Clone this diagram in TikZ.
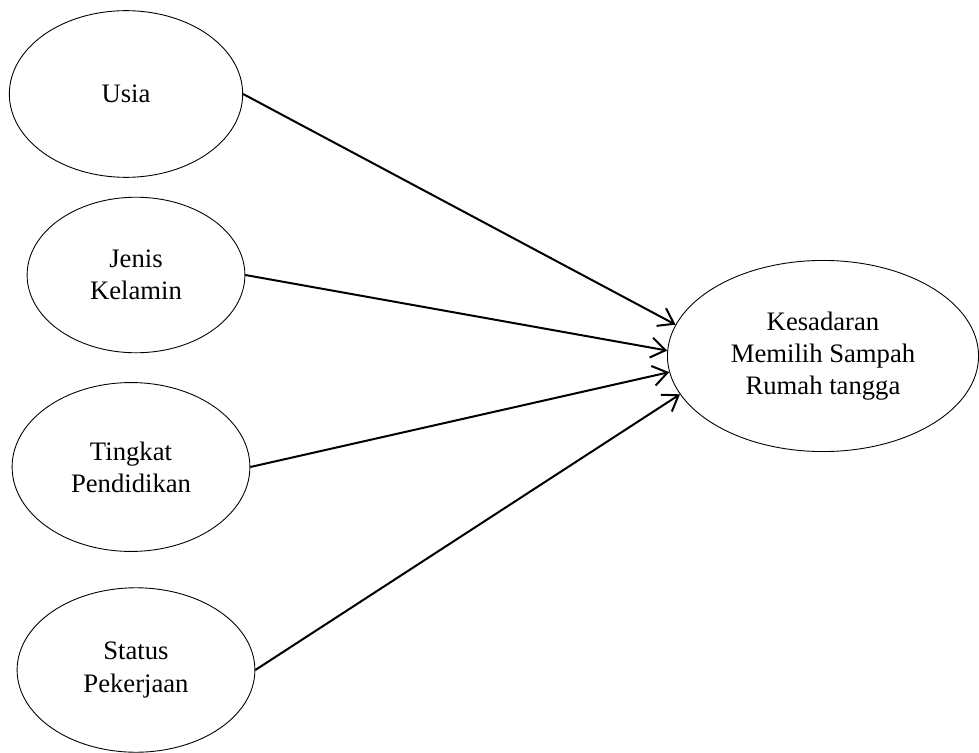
\documentclass[tikz,border=0pt]{standalone}
\usepackage{fontspec}
\setmainfont{Liberation Serif}
\usetikzlibrary{shapes.geometric,arrows.meta}

\tikzset{
  var/.style={draw,ellipse,inner sep=0pt,align=center,
    font=\fontsize{12pt}{14.5pt}\selectfont},
  link/.style={line width=0.9pt,-{Straight Barb[length=6.5pt,width=9pt]}}
}

\begin{document}
\begin{tikzpicture}[x=0.45pt,y=-0.45pt] % one unit per pixel of the layout
\useasboundingbox (0,0) rectangle (979,753);

\node[var,minimum width=105pt,minimum height=75pt] (usia) at (126,94) {Usia};
\node[var,minimum width=98pt,minimum height=70pt] (jenis) at (136,275) {Jenis\\Kelamin};
\node[var,minimum width=107pt,minimum height=76pt] (tingkat) at (131,467) {Tingkat\\Pendidikan};
\node[var,minimum width=107pt,minimum height=74pt] (status) at (136,670) {Status\\Pekerjaan};

\node[var,minimum width=140pt,minimum height=86pt] (kes) at (823,356) {Kesadaran\\Memilih Sampah\\Rumah tangga};

\foreach \src/\ang in {usia/168,jenis/178,tingkat/186,status/195}
\draw[link] (\src.east) -- (kes.\ang);

\end{tikzpicture}
\end{document}
